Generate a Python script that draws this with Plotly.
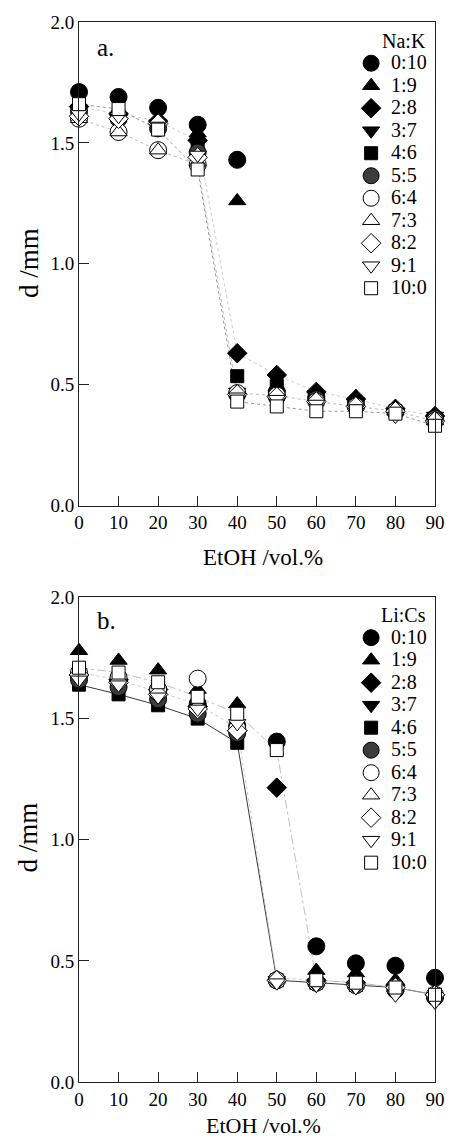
import plotly.graph_objects as go

etoh = [0, 10, 20, 30, 40, 50, 60, 70, 80, 90]
ratios = ["0:10", "1:9", "2:8", "3:7", "4:6", "5:5", "6:4", "7:3", "8:2", "9:1", "10:0"]

# Panel a: Na:K
na_k = {
    "0:10": [1.71, 1.69, 1.645, 1.575, 1.43, 0.47, 0.45, 0.43, 0.39, 0.36],
    "1:9":  [1.66, 1.63, 1.60, 1.54, 1.26, 0.47, 0.46, 0.45, 0.39, 0.37],
    "2:8":  [1.65, 1.62, 1.59, 1.51, 0.63, 0.54, 0.47, 0.44, 0.40, 0.37],
    "3:7":  [1.64, 1.60, 1.58, 1.50, 0.47, 0.46, 0.46, 0.43, 0.39, 0.37],
    "4:6":  [1.65, 1.61, 1.57, 1.48, 0.535, 0.495, 0.45, 0.42, 0.39, 0.36],
    "5:5":  [1.63, 1.60, 1.56, 1.46, 0.46, 0.45, 0.44, 0.41, 0.39, 0.36],
    "6:4":  [1.60, 1.545, 1.47, 1.41, 0.465, 0.455, 0.43, 0.41, 0.39, 0.35],
    "7:3":  [1.60, 1.545, 1.47, 1.42, 0.47, 0.46, 0.44, 0.42, 0.40, 0.35],
    "8:2":  [1.61, 1.60, 1.58, 1.44, 0.46, 0.45, 0.43, 0.41, 0.39, 0.35],
    "9:1":  [1.62, 1.61, 1.57, 1.45, 0.45, 0.44, 0.42, 0.40, 0.37, 0.34],
    "10:0": [1.66, 1.64, 1.555, 1.39, 0.43, 0.41, 0.39, 0.39, 0.38, 0.33],
}

# Panel b: Li:Cs
li_cs = {
    "0:10": [1.68, 1.66, 1.62, 1.56, 1.47, 1.405, 0.56, 0.49, 0.48, 0.43],
    "1:9":  [1.78, 1.74, 1.70, 1.62, 1.56, 0.43, 0.46, 0.45, 0.42, 0.37],
    "2:8":  [1.68, 1.66, 1.62, 1.55, 1.45, 1.215, 0.42, 0.41, 0.40, 0.36],
    "3:7":  [1.67, 1.64, 1.60, 1.53, 1.44, 0.42, 0.41, 0.40, 0.38, 0.35],
    "4:6":  [1.64, 1.60, 1.555, 1.50, 1.40, 0.42, 0.41, 0.40, 0.39, 0.36],
    "5:5":  [1.66, 1.63, 1.58, 1.52, 1.44, 0.42, 0.41, 0.40, 0.38, 0.35],
    "6:4":  [1.69, 1.67, 1.62, 1.665, 1.46, 0.42, 0.41, 0.40, 0.39, 0.36],
    "7:3":  [1.69, 1.66, 1.61, 1.56, 1.46, 0.43, 0.42, 0.41, 0.39, 0.36],
    "8:2":  [1.68, 1.65, 1.60, 1.54, 1.45, 0.42, 0.41, 0.40, 0.39, 0.36],
    "9:1":  [1.66, 1.64, 1.59, 1.54, 1.48, 0.41, 0.40, 0.39, 0.36, 0.33],
    "10:0": [1.71, 1.69, 1.65, 1.59, 1.52, 1.37, 0.42, 0.41, 0.39, 0.36],
}

y_ticks = [0.0, 0.5, 1.0, 1.5, 2.0]
x_ticks = etoh

FONT = "Liberation Serif, Times New Roman, serif"

symbols = {
    "0:10": ("circle", "black", 17), "1:9": ("triangle-up", "black", 15),
    "2:8": ("diamond", "black", 15), "3:7": ("triangle-down", "black", 15),
    "4:6": ("square", "black", 13), "5:5": ("circle", "#3c3c3c", 17),
    "6:4": ("circle", "white", 17), "7:3": ("triangle-up", "white", 15),
    "8:2": ("diamond", "white", 15), "9:1": ("triangle-down", "white", 15),
    "10:0": ("square", "white", 13),
}

# connecting-line styles (only some series show a visible line)
line_styles_a = {
    "2:8": dict(color="#bdbdbd", width=0.8, dash="dot"),
    "6:4": dict(color="#ababab", width=0.8, dash="dot"),
    "10:0": dict(color="#8c8c8c", width=0.9, dash="dot"),
}
line_styles_b = {
    "4:6": dict(color="#3a3a3a", width=1, dash="solid"),
    "10:0": dict(color="#b0b0b0", width=0.8, dash="dashdot"),
    "7:3": dict(color="#bdbdbd", width=0.8, dash="dot"),
}

fig = go.Figure()

panels = [(na_k, line_styles_a, "x", "y", "legend"),
          (li_cs, line_styles_b, "x2", "y2", "legend2")]
for data, lstyles, xa, ya, lg in panels:
    for r in ratios:
        if r in lstyles:
            fig.add_trace(go.Scatter(
                x=etoh, y=data[r], mode="lines", xaxis=xa, yaxis=ya,
                line=lstyles[r], showlegend=False, hoverinfo="skip",
                cliponaxis=False))
    for r in ratios:
        sym, col, sz = symbols[r]
        fig.add_trace(go.Scatter(
            x=etoh, y=data[r], mode="markers", xaxis=xa, yaxis=ya,
            name='<span style="font-size:20px">%s</span>' % r, legend=lg,
            marker=dict(symbol=sym, color=col, size=sz,
                        line=dict(color="black", width=1)),
            cliponaxis=False))

# Full-window figure; the page body margin is removed by a post script.
W, H = 457, 1142
ml, mr, mt, mb = 79, 13, 21, 60
ph = H - mt - mb
pw = W - ml - mr
def py(pix):  # page pixel -> paper y
    return (H - mb - pix) / ph
def px(pix):  # page pixel -> paper x
    return (pix - ml) / pw

axis_common = dict(
    showline=True, linecolor="#222", linewidth=1, mirror=True,
    ticks="inside", ticklen=10, tickcolor="#222", tickwidth=1,
    showgrid=False, zeroline=False, ticklabeloverflow="allow",
    tickfont=dict(family=FONT, size=19, color="black"),
)

legend_common = dict(xanchor="left", yanchor="top", bgcolor="rgba(0,0,0,0)",
                     font=dict(family=FONT, size=15), itemsizing="trace",
                     tracegroupgap=0)

def note(text, x, y, size, angle=0, xanchor="center"):
    return dict(text=text, xref="paper", yref="paper", x=px(x), y=py(y),
                xanchor=xanchor, yanchor="middle", showarrow=False,
                textangle=angle, font=dict(family=FONT, size=size, color="black"))

fig.update_layout(
    width=W, height=H,
    margin=dict(l=ml, r=mr, t=mt, b=mb),
    paper_bgcolor="white", plot_bgcolor="white",
    font=dict(family=FONT, color="black"),
    hovermode=False,
    xaxis=dict(domain=[0, 1], anchor="y", range=[0, 90], tickvals=x_ticks,
               **axis_common),
    yaxis=dict(domain=[py(505), 1], anchor="x", range=[0, 2], tickvals=y_ticks,
               tickformat=".1f", **axis_common),
    xaxis2=dict(domain=[0, 1], anchor="y2", range=[0, 90], tickvals=x_ticks,
                **axis_common),
    yaxis2=dict(domain=[0, py(597)], anchor="x2", range=[0, 2], tickvals=y_ticks,
                tickformat=".1f", **axis_common),
    legend=dict(x=px(358), y=py(46), **legend_common),
    legend2=dict(x=px(358), y=py(621), **legend_common),
    annotations=[
        note("a.", 95, 47, 25, xanchor="left"),
        note("b.", 95, 620, 25, xanchor="left"),
        note("Na:K", 437, 40, 20, xanchor="right"),
        note("Li:Cs", 437, 615, 20, xanchor="right"),
        note("d /mm", 27, 262, 27, angle=-90),
        note("d /mm", 27, 837, 27, angle=-90),
        note("EtOH /vol.%", 268, 557, 23),
        note("EtOH /vol.%", 268, 1126, 22),
    ],
)

fig.write_html(
    "out.html",
    config={"displayModeBar": False},
    post_script="document.body.style.margin='0';"
                "document.documentElement.style.overflow='hidden';",
)
